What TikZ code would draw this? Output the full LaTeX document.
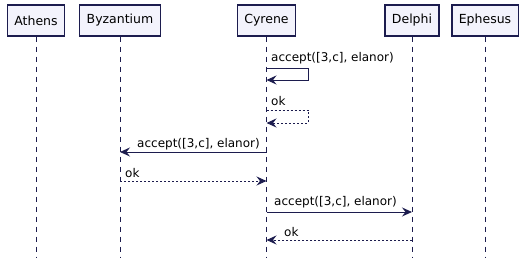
\documentclass[tikz,border=0pt]{standalone}
\usepackage{fontspec}
\setmainfont{DejaVu Sans}
\usetikzlibrary{arrows.meta}

\definecolor{seqline}{RGB}{28,28,78}
\definecolor{seqfill}{RGB}{243,243,252}

\tikzset{
  actor/.style={draw=seqline, fill=seqfill, line width=1.4pt, minimum height=31pt,
    inner xsep=7pt, font=\fontsize{12.5}{14}\selectfont},
  lifeline/.style={draw=seqline, line width=0.9pt, dash pattern=on 5pt off 5pt},
  msg/.style={draw=seqline, line width=0.9pt, -{Stealth[length=10pt, width=9pt, inset=3.5pt]}},
  reply/.style={msg, dash pattern=on 2pt off 2pt},
  lbl/.style={font=\fontsize{12}{14}\selectfont, inner sep=0pt, anchor=west}
}

\begin{document}
\begin{tikzpicture}[x=1pt, y=-1pt]
    \useasboundingbox (0,0) rectangle (528,264);
    % participants
    \node[actor] (athens) at (36,20.5) {Athens};
    \node[actor] (byzantium) at (120,20.5) {Byzantium};
    \node[actor] (cyrene) at (266.5,20.5) {Cyrene};
    \node[actor] (delphi) at (412,20.5) {Delphi};
    \node[actor] (ephesus) at (485,20.5) {Ephesus};
    % lifelines
    \foreach \p in {athens, byzantium, cyrene, delphi, ephesus}
        \draw[lifeline] (\p.south) -- (\p.south |- 0,257);
    % Cyrene calls itself
    \draw[msg] (cyrene |- 0,68) -- (308,68) -- (308,80) -- (cyrene |- 0,80);
    \node[lbl] (call1) at (271,58) {accept([3,c], elanor)};
    \draw[reply] (cyrene |- 0,110) -- (308,110) -- (308,123) -- (cyrene |- 0,123);
    \node[lbl] (ok1) at (271,101) {ok};
    % Cyrene -> Byzantium
    \draw[msg] (cyrene |- 0,152) -- (byzantium |- 0,152);
    \node[lbl] (call2) at (137,144) {accept([3,c], elanor)};
    \draw[reply] (byzantium |- 0,181) -- (cyrene |- 0,181);
    \node[lbl] (ok2) at (125,173) {ok};
    % Cyrene -> Delphi
    \draw[msg] (cyrene |- 0,212) -- (delphi |- 0,212);
    \node[lbl] (call3) at (274,202) {accept([3,c], elanor)};
    \draw[reply] (delphi |- 0,240) -- (cyrene |- 0,240);
    \node[lbl] (ok3) at (284,232) {ok};
\end{tikzpicture}
\end{document}
